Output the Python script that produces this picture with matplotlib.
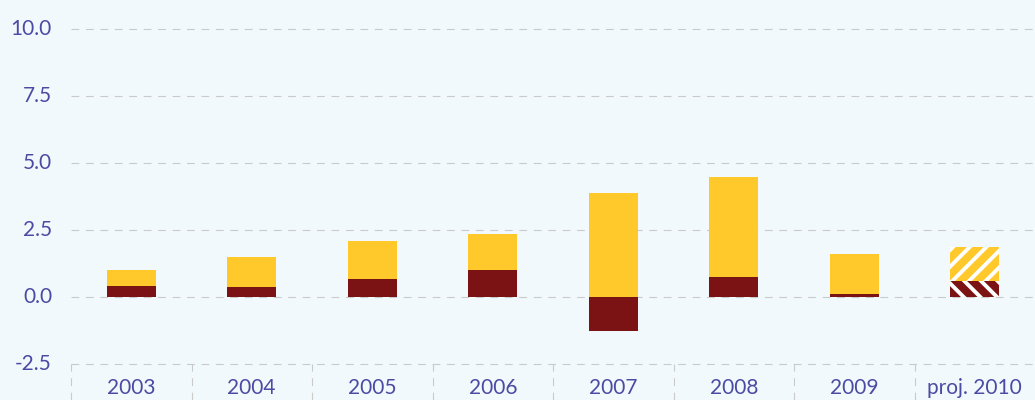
import matplotlib.pyplot as plt
import matplotlib.transforms as mtransforms

# data
years = ["2003", "2004", "2005", "2006", "2007", "2008", "2009", "proj. 2010"]
red_part = [0.40, 0.37, 0.67, 1.00, -1.25, 0.75, 0.11, 0.60]
yellow_part = [0.60, 1.12, 1.42, 1.35, 3.88, 3.73, 1.49, 1.27]
y_ticks = [-2.5, 0.0, 2.5, 5.0, 7.5, 10.0]

BG = "#f2f9fc"
YELLOW = "#ffc92c"
RED = "#7b1315"
TEXT = "#4b4ba3"
GRID = "#cacaca"

plt.rcParams["font.family"] = ["Lato", "DejaVu Sans"]
plt.rcParams["hatch.linewidth"] = 2.8

fig = plt.figure(figsize=(10.35, 4.0), dpi=100)
fig.patch.set_facecolor(BG)
ax = fig.add_axes([0, 0, 1, 1])
ax.set_facecolor(BG)
ax.set_xlim(-0.5 - 71 / 120.5, 7.5)
ax.set_ylim(-3.84, 11.08)
ax.axis("off")

n = len(years)
dash = (0, (7, 6))
# dashed grid lines
ax.hlines(y_ticks, -0.5, n - 0.5, colors=GRID, linestyles=dash, linewidth=0.8, zorder=1)
# vertical separators in the label band
for i in range(n):
    ax.vlines(i - 0.5, -3.84, -2.5, colors=GRID, linestyles=dash, linewidth=0.8, zorder=1)

w = 0.41
for i in range(n):
    last = i == n - 1
    base = max(red_part[i], 0)
    ax.bar(i, red_part[i], width=w, color=RED, linewidth=0, zorder=2,
           hatch="\\\\" if last else None, edgecolor="white" if last else None)
    ax.bar(i, yellow_part[i], bottom=base, width=w, color=YELLOW, linewidth=0, zorder=2,
           hatch="//" if last else None, edgecolor="white" if last else None)
    ax.text(i, -3.38, years[i], ha="center", va="center", fontsize=15, color=TEXT)

trans = mtransforms.blended_transform_factory(fig.transFigure, ax.transData)
for t in y_ticks:
    ax.text(52 / 1035, t, f"{t:.1f}", transform=trans, ha="right", va="center",
            fontsize=15, color=TEXT)

fig.savefig("out.png", dpi=100, facecolor=BG)
